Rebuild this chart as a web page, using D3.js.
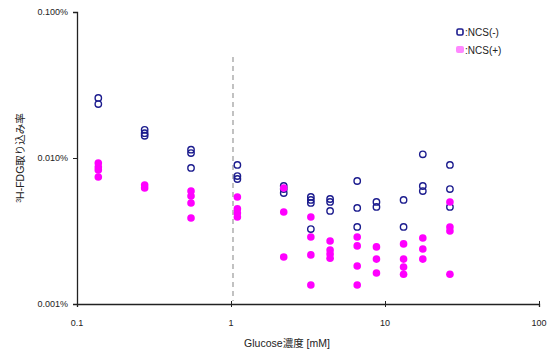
<!DOCTYPE html>
<html>
<head>
<meta charset="utf-8">
<script src="https://cdn.jsdelivr.net/npm/d3@7"></script>
<style>
  body { margin: 0; background: #fff; }
  svg { display: block; font-family: "Liberation Sans", Arial, "Noto Sans CJK JP", sans-serif; }
  .tick-label { font-size: 9px; fill: #222; }
  .axis-title { font-size: 10.5px; fill: #222; }
  .legend-label { font-size: 10px; fill: #222; }
</style>
</head>
<body>
<div id="chart"></div>
<script>
// Glucose concentration (mM) per measurement group
const glucose = [0.1375, 0.275, 0.55, 1.1, 2.2, 3.3, 4.4, 6.6, 8.8, 13.2, 17.6, 26.4]

// 3H-FDG uptake (%) per group, NCS(-)
const ncsMinus = [
  [0.0258, 0.0234],
  [0.0156, 0.0148, 0.0142],
  [0.0114, 0.0108, 0.00855],
  [0.00896, 0.00752, 0.00718],
  [0.00643, 0.00613, 0.00576],
  [0.00541, 0.00516, 0.00492, 0.00326],
  [0.00524, 0.00500, 0.00434],
  [0.00696, 0.00455, 0.00337],
  [0.00500, 0.00462],
  [0.00516, 0.00337],
  [0.0106, 0.00643, 0.00594],
  [0.00896, 0.00613, 0.00462]
]

// 3H-FDG uptake (%) per group, NCS(+)
const ncsPlus = [
  [0.00925, 0.00868, 0.00828, 0.00741],
  [0.00653, 0.00623],
  [0.00594, 0.00549, 0.00492, 0.00388],
  [0.00541, 0.00448, 0.00420, 0.00394],
  [0.00623, 0.00427, 0.00210],
  [0.00394, 0.00288, 0.00217, 0.00135],
  [0.00270, 0.00234, 0.00220, 0.00206],
  [0.00288, 0.00250, 0.00182, 0.00135],
  [0.00246, 0.00203, 0.00163],
  [0.00258, 0.00203, 0.00179, 0.00160],
  [0.00283, 0.00238, 0.00203],
  [0.00500, 0.00337, 0.00316, 0.00160]
]

const xTicks = [0.1, 1, 10, 100]
const xTickLabels = ['0.1', '1', '10', '100']
const yTicks = [0.001, 0.01, 0.1]
const yTickLabels = ['0.001%', '0.010%', '0.100%']
const legendLabels = [':NCS(-)', ':NCS(+)']

const width = 548
const height = 353
const blue = '#1c1c8e'
const pink = '#ff00ff'

const x = d3.scaleLog().domain([0.1, 100]).range([77, 539])
const y = d3.scaleLog().domain([0.001, 0.1]).range([304, 12])

const svg = d3.select('#chart').append('svg')
  .attr('width', width)
  .attr('height', height)

// ---------- Axes ----------
const xAxis = svg.append('g')
  .attr('transform', `translate(0,${y(0.001)})`)
  .call(d3.axisBottom(x).tickValues(xTicks).tickSize(3).tickFormat(''))
xAxis.select('.domain').attr('stroke', '#222').attr('stroke-width', 1.3)
xAxis.selectAll('.tick line').attr('stroke', '#222').attr('y1', -3)

const yAxis = svg.append('g')
  .attr('transform', `translate(${x(0.1)},0)`)
  .call(d3.axisLeft(y).tickValues(yTicks).tickSize(4).tickFormat(''))
yAxis.select('.domain').attr('stroke', '#222').attr('stroke-width', 1.3)
yAxis.selectAll('.tick line').attr('stroke', '#222')

svg.selectAll('.x-tick-label')
  .data(xTicks)
  .join('text')
  .attr('class', 'tick-label')
  .attr('x', d => x(d))
  .attr('y', 326)
  .attr('text-anchor', 'middle')
  .text((d, i) => xTickLabels[i])

svg.selectAll('.y-tick-label')
  .data(yTicks)
  .join('text')
  .attr('class', 'tick-label')
  .attr('x', 68)
  .attr('y', d => y(d))
  .attr('dy', '0.35em')
  .attr('text-anchor', 'end')
  .text((d, i) => yTickLabels[i])

svg.append('text')
  .attr('class', 'axis-title')
  .attr('x', 287)
  .attr('y', 347)
  .attr('text-anchor', 'middle')
  .text('Glucose濃度 [mM]')

const yTitle = svg.append('text')
  .attr('class', 'axis-title')
  .attr('transform', `translate(24,158) rotate(-90)`)
  .attr('text-anchor', 'middle')
yTitle.append('tspan').attr('font-size', '7px').attr('dy', '-3').text('3')
yTitle.append('tspan').attr('dy', '3').text('H-FDG取り込み率')

// dashed reference at 1 mM
svg.append('line')
  .attr('x1', x(1) + 2).attr('x2', x(1) + 2)
  .attr('y1', 57).attr('y2', y(0.001) - 3)
  .attr('stroke', '#999')
  .attr('stroke-width', 1.2)
  .attr('stroke-dasharray', '5,4')

// ---------- Points ----------
const flatten = series => series.flatMap((vals, i) => vals.map(v => ({ g: glucose[i], v })))

svg.append('g')
  .selectAll('circle')
  .data(flatten(ncsMinus))
  .join('circle')
  .attr('cx', d => x(d.g))
  .attr('cy', d => y(d.v))
  .attr('r', 3.2)
  .attr('fill', 'none')
  .attr('stroke', blue)
  .attr('stroke-width', 1.4)

svg.append('g')
  .selectAll('circle')
  .data(flatten(ncsPlus))
  .join('circle')
  .attr('cx', d => x(d.g))
  .attr('cy', d => y(d.v))
  .attr('r', 3.8)
  .attr('fill', pink)

// ---------- Legend ----------
const legend = svg.append('g').attr('transform', 'translate(456,28)')
legend.append('rect')
  .attr('x', 1).attr('y', 1).attr('width', 6).attr('height', 6).attr('rx', 1.5)
  .attr('fill', 'none').attr('stroke', blue).attr('stroke-width', 1.6)
legend.append('rect')
  .attr('x', 0).attr('y', 18).attr('width', 8).attr('height', 7).attr('rx', 2)
  .attr('fill', '#ff88ff')
legend.selectAll('.legend-label')
  .data(legendLabels)
  .join('text')
  .attr('class', 'legend-label')
  .attr('x', 9)
  .attr('y', (d, i) => 4 + i * 18)
  .attr('dy', '0.35em')
  .text(d => d)
</script>
</body>
</html>
